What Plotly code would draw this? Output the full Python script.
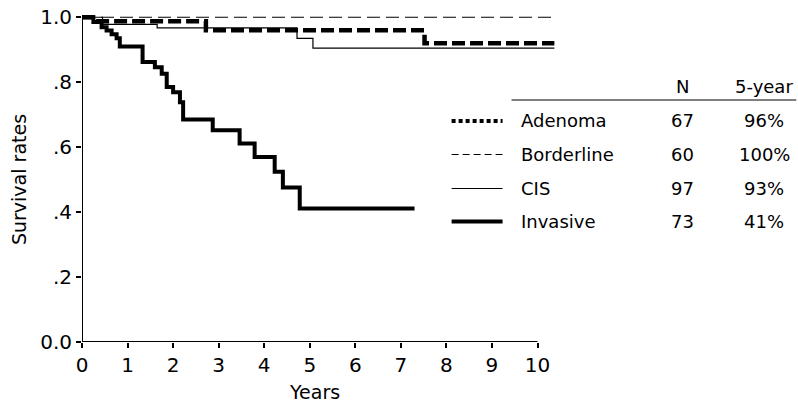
import plotly.graph_objects as go

# ---- data ----
adenoma_t = [0, 0.30, 2.72, 7.52, 10.37]
adenoma_s = [1.0, 0.988, 0.960, 0.920, 0.920]

borderline_t = [0, 10.37]
borderline_s = [1.0, 1.0]

cis_t = [0, 0.45, 1.65, 4.72, 5.07, 10.37]
cis_s = [1.0, 0.978, 0.967, 0.935, 0.905, 0.905]

invasive_t = [0, 0.25, 0.43, 0.54, 0.65, 0.76, 0.83, 1.33, 1.60, 1.75, 1.86,
              2.00, 2.15, 2.22, 2.87, 3.46, 3.79, 4.23, 4.41, 4.78, 7.30]
invasive_s = [1.0, 0.985, 0.969, 0.959, 0.948, 0.935, 0.910, 0.862, 0.846,
              0.826, 0.785, 0.769, 0.738, 0.685, 0.652, 0.611, 0.570, 0.524,
              0.476, 0.411, 0.411]

group_names = ["Adenoma", "Borderline", "CIS", "Invasive"]
group_n = ["67", "60", "97", "73"]
group_5yr = ["96%", "100%", "93%", "41%"]

x_ticks = list(range(0, 11))
y_ticks = [0, 0.2, 0.4, 0.6, 0.8, 1.0]
y_ticklabels = ["0.0", ".2", ".4", ".6", ".8", "1.0"]

# ---- layout geometry (body margin removed -> window pixels == figure pixels) ----
W, H = 798, 403
PL, PT, PB = 82, 14, 342          # plot left / top / bottom in window pixels
PX_PER_YEAR = 45.6
PR = 558.5                        # plot right in window pixels
L, T = PL, PT
B = H - PB
R = W - PR
plot_w = PR - PL
plot_h = PB - PT
PX_PER_UNIT = 324.75
FONT = "DejaVu Sans"

def px(xp):
    return (xp - PL) / plot_w

def py(yp):
    return (PB - yp) / plot_h

fig = go.Figure()
fig.add_trace(go.Scatter(x=borderline_t, y=borderline_s, mode="lines", line_shape="hv",
                         line=dict(color="black", width=1.2, dash="13px,6px"), showlegend=False))
fig.add_trace(go.Scatter(x=cis_t, y=cis_s, mode="lines", line_shape="hv",
                         line=dict(color="black", width=1.2), showlegend=False))
fig.add_trace(go.Scatter(x=adenoma_t, y=adenoma_s, mode="lines", line_shape="hv",
                         line=dict(color="black", width=4.5, dash="13px,5px"), showlegend=False))
fig.add_trace(go.Scatter(x=invasive_t, y=invasive_s, mode="lines", line_shape="hv",
                         line=dict(color="black", width=4), showlegend=False))

shapes = [
    dict(type="line", xref="x", yref="y", x0=0, x1=10, y0=0, y1=0,
         line=dict(color="black", width=2)),
    dict(type="line", xref="x", yref="y", x0=0, x1=0, y0=0, y1=1.0,
         line=dict(color="black", width=2)),
    # table rule
    dict(type="line", xref="paper", yref="paper", x0=px(512), x1=px(797),
         y0=py(100), y1=py(100), line=dict(color="black", width=1)),
]

row_y = [121, 154.5, 188.5, 221.5]
sample_styles = [dict(width=4, dash="4px,3px"), dict(width=1, dash="7px,4px"),
                 dict(width=1, dash="solid"), dict(width=4, dash="solid")]
annotations = [
    dict(text="N", x=px(683), y=py(87), xref="paper", yref="paper",
         showarrow=False, xanchor="center", yanchor="middle"),
    dict(text="5-year", x=px(796), y=py(87), xref="paper", yref="paper",
         showarrow=False, xanchor="right", yanchor="middle"),
    dict(text="Years", x=px(315), y=py(392), xref="paper", yref="paper",
         showarrow=False, xanchor="center", yanchor="middle", font=dict(size=19)),
    dict(text="Survival rates", x=px(19), y=py(180), xref="paper", yref="paper",
         showarrow=False, xanchor="center", yanchor="middle", textangle=-90,
         font=dict(size=19)),
]
for i, name in enumerate(group_names):
    yy = py(row_y[i])
    st = sample_styles[i]
    shapes.append(dict(type="line", xref="paper", yref="paper", x0=px(452), x1=px(503),
                       y0=yy, y1=yy, line=dict(color="black", width=st["width"], dash=st["dash"])))
    annotations.append(dict(text=name, x=px(519), y=yy, xref="paper", yref="paper",
                            showarrow=False, xanchor="left", yanchor="middle"))
    annotations.append(dict(text=group_n[i], x=px(683), y=yy, xref="paper", yref="paper",
                            showarrow=False, xanchor="center", yanchor="middle"))
    annotations.append(dict(text=group_5yr[i], x=px(765), y=yy, xref="paper", yref="paper",
                            showarrow=False, xanchor="center", yanchor="middle"))

fig.update_layout(
    width=W, height=H,
    margin=dict(l=L, r=R, t=T, b=B, autoexpand=False),
    plot_bgcolor="white", paper_bgcolor="white",
    font=dict(family=FONT, size=18, color="black"),
    shapes=shapes, annotations=annotations,
    xaxis=dict(range=[0, plot_w / PX_PER_YEAR], tickvals=x_ticks, showgrid=False,
               zeroline=False, showline=False, ticks="outside", ticklen=5, tickwidth=1.5,
               tickcolor="black", tickfont=dict(size=20), automargin=False,
               ticklabeloverflow="allow"),
    yaxis=dict(range=[0, plot_h / PX_PER_UNIT], tickvals=y_ticks, ticktext=y_ticklabels,
               showgrid=False, zeroline=False, showline=False, ticks="outside", ticklen=5,
               tickwidth=1.5, tickcolor="black", tickfont=dict(size=20), automargin=False,
               ticklabeloverflow="allow"),
)

fig.write_html(
    "out.html",
    config={"displayModeBar": False},
    post_script="document.body.style.margin='0';document.body.style.overflow='hidden';",
)
